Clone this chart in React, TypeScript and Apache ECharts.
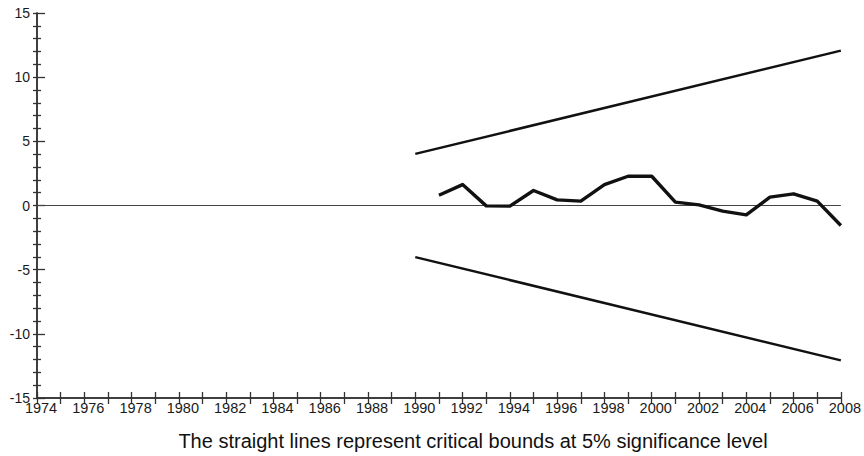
import React, { useEffect, useRef } from "react";
import * as echarts from "echarts";

const residualYears = [1991, 1992, 1993, 1994, 1995, 1996, 1997, 1998, 1999, 2000, 2001, 2002, 2003, 2004, 2005, 2006, 2007, 2008];
const cusumValues = [0.80, 1.63, -0.03, -0.05, 1.17, 0.44, 0.34, 1.63, 2.28, 2.28, 0.26, 0.05, -0.44, -0.73, 0.65, 0.91, 0.34, -1.56];
const boundYears = [1990, 2008];
const upperBound = [4.02, 12.07];
const lowerBound = [-4.02, -12.07];
const zeroLineYears = [1974, 2008];
const zeroLineValues = [0, 0];
const xMin = 1974;
const xMax = 2008;
const yMin = -15;
const yMax = 15;
const caption = "The straight lines represent critical bounds at 5% significance level";

const FONT = "'Liberation Sans', Arial, sans-serif";
const AXIS_COLOR = "#333";

export default function App() {
  const ref = useRef<HTMLDivElement>(null);
  useEffect(() => {
    if (!ref.current) return;
    const chart = echarts.init(ref.current, undefined, { renderer: "svg" });
    const axisLine = { show: true, onZero: false, lineStyle: { color: AXIS_COLOR, width: 1.5 } };
    const tickStyle = { color: AXIS_COLOR, width: 1.3 };
    const xBase = {
      type: "value" as const,
      min: xMin,
      max: xMax,
      interval: 1,
      position: "bottom" as const,
      axisLine,
      splitLine: { show: false },
    };
    const yBase = {
      type: "value" as const,
      min: yMin,
      max: yMax,
      interval: 5,
      position: "left" as const,
      axisLine,
      splitLine: { show: false },
    };
    chart.setOption({
      animation: false,
      backgroundColor: "#fff",
      grid: { left: 37, right: 23, top: 13, bottom: 58, containLabel: false },
      xAxis: [
        {
          ...xBase,
          axisTick: { show: true, length: 6, lineStyle: tickStyle },
          axisLabel: {
            formatter: (v: number) => (v % 2 === 0 ? String(v) : ""),
            fontSize: 14.5,
            fontFamily: FONT,
            color: "#1a1a1a",
            margin: 2,
            padding: [0, 0, 0, 8],
          },
        },
        {
          ...xBase,
          axisTick: { show: true, inside: true, length: 6, lineStyle: tickStyle },
          axisLabel: { show: false },
        },
      ],
      yAxis: [
        {
          ...yBase,
          axisTick: { show: true, length: 4, lineStyle: tickStyle },
          minorTick: { show: true, splitNumber: 5, length: 4, lineStyle: tickStyle },
          axisLabel: { fontSize: 14, fontFamily: FONT, color: "#1a1a1a", margin: 7 },
        },
        {
          ...yBase,
          offset: 0,
          axisTick: { show: true, inside: true, length: 8, lineStyle: tickStyle },
          minorTick: { show: true, splitNumber: 5, length: 4, lineStyle: tickStyle },
          axisLabel: { show: false },
        },
      ],
      title: {
        text: caption,
        left: 468,
        top: 426,
        textAlign: "center",
        textStyle: { fontSize: 20, fontWeight: "normal", fontFamily: FONT, color: "#111" },
      },
      series: [
        {
          type: "line",
          xAxisIndex: 0,
          yAxisIndex: 0,
          data: zeroLineYears.map((y, i) => [y, zeroLineValues[i]]),
          symbol: "none",
          lineStyle: { color: "#444", width: 1.2 },
          silent: true,
        },
        {
          type: "line",
          xAxisIndex: 0,
          yAxisIndex: 0,
          data: boundYears.map((y, i) => [y, upperBound[i]]),
          symbol: "none",
          lineStyle: { color: "#111", width: 2.5 },
        },
        {
          type: "line",
          xAxisIndex: 0,
          yAxisIndex: 0,
          data: boundYears.map((y, i) => [y, lowerBound[i]]),
          symbol: "none",
          lineStyle: { color: "#111", width: 2.5 },
        },
        {
          type: "line",
          xAxisIndex: 0,
          yAxisIndex: 0,
          data: residualYears.map((y, i) => [y, cusumValues[i]]),
          symbol: "none",
          lineStyle: { color: "#111", width: 3.4, join: "round" },
        },
      ],
    });
    return () => chart.dispose();
  }, []);
  return <div ref={ref} style={{ position: "fixed", left: 0, top: 0, width: 864, height: 456 }} />;
}
